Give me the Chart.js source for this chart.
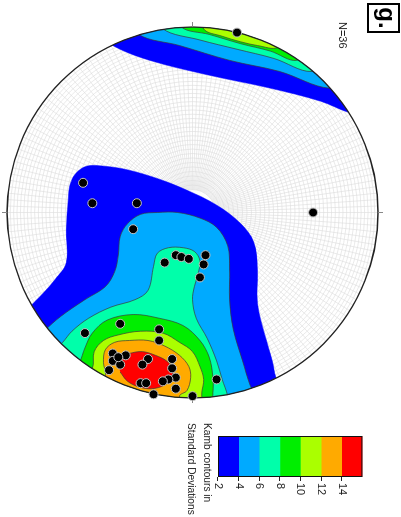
<!DOCTYPE html>
<html>
<head>
<meta charset="utf-8">
<script src="https://cdn.jsdelivr.net/npm/chart.js@4"></script>
<style>
html, body { margin: 0; padding: 0; background: #fff; overflow: hidden; }
#fig { position: absolute; left: 0; top: 0; width: 517px; height: 401px; transform-origin: 0 0;
  transform: translate(401px, 0) rotate(90deg); font-family: "Liberation Sans", Arial, sans-serif; color: #222; }
#net { position: absolute; left: 0; top: 0; }
#bar { position: absolute; left: 430px; top: 30px; }
#tag { position: absolute; left: 3px; top: 1px; width: 26px; height: 29px; border: 2px solid #000;
  font: bold 24px/21px "Liberation Sans", Arial, sans-serif; text-align: center; color: #000; }
#n { position: absolute; left: 22px; top: 52px; font-size: 11px; line-height: 13px; }
#kamb { position: absolute; left: 423px; top: 186px; font-size: 10.2px; line-height: 16px; white-space: nowrap; }
</style>
</head>
<body>
<div id="fig">
  <canvas id="net" width="410" height="401"></canvas>
  <canvas id="bar" width="69" height="165"></canvas>
  <div id="tag">g.</div>
  <div id="n">N=36</div>
  <div id="kamb">Kamb contours in<br>Standard Deviations</div>
</div>
<script>
// Kamb contour levels (standard deviations) and their fill colours
const levels = [2, 4, 6, 8, 10, 12, 14, 16];
const levelColors = ['#0000ff', '#00aaff', '#00ffaa', '#00ee00', '#aaff00', '#ffaa00', '#ff0000'];

// poles, net coordinates (primitive radius = 100)
const poleX = [-97, 0, -16, -5, -5, 9, 27, 23, 24, 25, 23, 28, 35, 60, 65, 63, 69, 76,
  77, 80, 79, 79, 82, 82, 85, 84, 89, 90, 91, 92, 92, 90, 95, 98, 99, 78];
const poleY = [24, 65, -59, -54, -30, -32, -15, -9, -6, -2, 7, 6, 4, -39, -58, -18, -18, -43,
  -36, -43, -24, -11, -39, -27, -45, -11, -9, -13, -16, -28, -25, 13, -9, -21, 0, -40];

// contour outlines, net coordinates (parts outside the primitive get clipped)
const rim2 = [[-97,-50],[-90,-43],[-82,-23],[-74,9],[-67,42],[-60,69],[-54,84],[-50,100],[-120,100],[-120,-60]];
const rim4 = [[-106,-32],[-96,-29],[-90,-7],[-82,20],[-76,47],[-67,74],[-74,82],[-120,82],[-120,-32]];
const rim6 = [[-109,-18],[-99,-16],[-93,4],[-88,24],[-83,44],[-76,64],[-84,71],[-120,71],[-120,-18]];
const rim8 = [[-110,-6],[-100,-6],[-96,9],[-91,26],[-87,42],[-82,56],[-90,62],[-120,62],[-120,-6]];
const rim10 = [[-110,6],[-99,6],[-95,16],[-92,26],[-90,35],[-89,46],[-98,51],[-120,51],[-120,6]];

const lobe2 = [[58,-96],[51,-88],[44,-81],[36,-74],[27,-68],[9,-68],[-7,-67],[-15,-66],[-21,-63],[-25,-57],
  [-25,-48],[-23,-35],[-18,-18],[-12,-3],[-4,13],[6,26],[16,33],[31,35],[49,35],[66,39],[80,43],[89,45],
  [98,50],[110,0],[100,-60]];
const lobe4 = [[70,-85],[64,-80],[56,-71],[47,-58],[40,-47],[32,-42],[23,-40],[13,-39],[6,-35],[1,-28],
  [0,-19],[0,-8],[3,4],[8,13],[18,19],[31,20],[47,20],[63,22],[80,27],[93,31],[102,35],[110,0],[95,-60]];
const lobe6 = [[77,-77],[70,-70],[64,-65],[57,-56],[51,-44],[47,-31],[42,-24],[29,-21],[22,-19],[19,-13],
  [19,-5],[21,1],[26,4],[33,3],[40,1],[47,0],[57,2],[68,8],[80,13],[90,16],[99,19],[108,20],[110,-20],[95,-65]];
const lobe8 = [[88,-66],[81,-61],[73,-58],[65,-54],[58,-46],[55,-32],[57,-18],[61,-5],[69,4],[78,9],
  [89,11],[97,11],[112,9],[106,-39]];
const lobe10 = [[93,-61],[84,-54],[75,-53],[69,-48],[66,-40],[64,-28],[65,-16],[70,-7],[75,0],[83,4],
  [90,6],[97,5],[112,4],[106,-39]];
const lobe12 = [[96,-53],[88,-47],[81,-48],[74,-47],[70,-42],[69,-34],[69,-24],[72,-15],[77,-7],[83,-2],
  [89,-1],[96,-3],[99,-7],[112,-5],[106,-39]];
const lobe14 = [[82,-40],[78,-39],[76,-34],[75,-27],[77,-20],[80,-14],[84,-11],[89,-11],[93,-15],[95,-22],
  [94,-29],[91,-35],[86,-39]];

const contours = [[0, rim2], [0, lobe2], [1, rim4], [1, lobe4], [2, rim6], [2, lobe6],
  [3, rim8], [3, lobe8], [4, rim10], [4, lobe10], [5, lobe12], [6, lobe14]];

const FONT = '"Liberation Sans", Arial, sans-serif';

// polar equal-area net under the contours, circle clip for the contours,
// then primitive circle + ticks before the poles are drawn
const netPlugin = {
  id: 'net',
  beforeDatasetsDraw(chart) {
    const { ctx, scales: { x, y } } = chart;
    const cx = x.getPixelForValue(0), cy = y.getPixelForValue(0);
    const R = x.getPixelForValue(100) - cx;
    ctx.save();
    ctx.strokeStyle = '#dcdcdc';
    ctx.lineWidth = 0.6;
    for (let t = 2; t < 90; t += 2) {
      const r = R * Math.SQRT2 * Math.sin(t / 2 * Math.PI / 180);
      ctx.beginPath();
      ctx.arc(cx, cy, r, 0, 2 * Math.PI);
      ctx.stroke();
    }
    const r0 = R * Math.SQRT2 * Math.sin(5 * Math.PI / 180);
    for (let a = 0; a < 360; a += 2) {
      const c = Math.cos(a * Math.PI / 180), s = Math.sin(a * Math.PI / 180);
      ctx.beginPath();
      ctx.moveTo(cx + r0 * c, cy + r0 * s);
      ctx.lineTo(cx + R * c, cy + R * s);
      ctx.stroke();
    }
    ctx.restore();
    ctx.save();
    ctx.beginPath();
    ctx.arc(cx, cy, R, 0, 2 * Math.PI);
    ctx.clip();
  },
  beforeDatasetDraw(chart, args) {
    if (chart.data.datasets[args.index].label !== 'poles') return;
    const { ctx, scales: { x, y } } = chart;
    ctx.restore();
    const cx = x.getPixelForValue(0), cy = y.getPixelForValue(0);
    const R = x.getPixelForValue(100) - cx;
    ctx.save();
    ctx.strokeStyle = '#222';
    ctx.lineWidth = 1.3;
    ctx.beginPath();
    ctx.arc(cx, cy, R, 0, 2 * Math.PI);
    ctx.stroke();
    ctx.strokeStyle = '#888';
    ctx.lineWidth = 1;
    [[1, 0], [-1, 0], [0, 1], [0, -1]].forEach(([c, s]) => {
      ctx.beginPath();
      ctx.moveTo(cx + R * c, cy + R * s);
      ctx.lineTo(cx + (R + 5) * c, cy + (R + 5) * s);
      ctx.stroke();
    });
    ctx.restore();
  }
};

const datasets = contours.map(([k, pts]) => ({
  type: 'line',
  data: pts.map(p => ({ x: p[0], y: p[1] })),
  backgroundColor: levelColors[k],
  borderColor: k === 0 ? levelColors[0] : '#3a3a3a',
  borderWidth: k === 0 ? 0.5 : 0.7,
  fill: 'shape',
  pointRadius: 0,
  tension: 0.35,
  order: 10 - k
}));
datasets.push({
  label: 'poles',
  type: 'scatter',
  data: poleX.map((px, i) => ({ x: px, y: poleY[i] })),
  pointRadius: 4.5,
  backgroundColor: '#000',
  borderColor: '#c4c4c4',
  borderWidth: 1,
  clip: false,
  order: 0
});

new Chart(document.getElementById('net'), {
  type: 'scatter',
  data: { datasets },
  options: {
    responsive: false,
    animation: false,
    events: [],
    layout: { padding: { left: 27, right: 12, top: 23, bottom: 7 } },
    elements: { line: { capBezierPoints: false } },
    plugins: { legend: { display: false }, tooltip: { enabled: false } },
    scales: {
      x: { type: 'linear', min: -100, max: 100, display: false },
      y: { type: 'linear', min: -100, max: 100, display: false }
    }
  },
  plugins: [netPlugin]
});

// colour bar
const outline = {
  id: 'outline',
  afterDatasetsDraw(chart) {
    const { ctx, chartArea: a } = chart;
    ctx.save();
    ctx.strokeStyle = '#111';
    ctx.lineWidth = 1;
    ctx.strokeRect(a.left + 0.5, a.top + 0.5, a.right - a.left - 1, a.bottom - a.top - 1);
    ctx.restore();
  }
};

new Chart(document.getElementById('bar'), {
  type: 'bar',
  data: {
    labels: [''],
    datasets: levelColors.map((c, i) => ({
      data: [[levels[i], levels[i + 1]]],
      backgroundColor: c,
      borderWidth: 0,
      grouped: false,
      barPercentage: 1,
      categoryPercentage: 1
    }))
  },
  options: {
    responsive: false,
    animation: false,
    events: [],
    layout: { padding: { left: 6, right: 0, top: 8, bottom: 12 } },
    plugins: { legend: { display: false }, tooltip: { enabled: false } },
    scales: {
      x: { display: false },
      y: {
        position: 'right',
        min: 2,
        max: 16,
        afterFit(s) { s.width = 22; },
        ticks: { stepSize: 2, padding: 2, color: '#222', font: { size: 11, family: FONT },
          callback: v => (v === 16 ? '' : v) },
        grid: { drawOnChartArea: false, tickLength: 4,
          color: c => (c.tick && c.tick.value === 16 ? 'rgba(0,0,0,0)' : '#222') },
        border: { display: false }
      }
    }
  },
  plugins: [outline]
});
</script>
</body>
</html>
